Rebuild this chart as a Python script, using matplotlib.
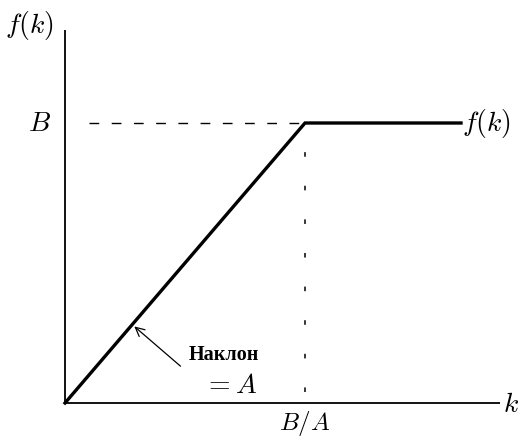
import matplotlib
matplotlib.use("Agg")
import matplotlib.pyplot as plt

# piecewise-linear f(k): slope A up to k = B/A, then flat at B (units: B = 1, B/A = 1)
k_points = [0.0, 1.0, 1.65]
f_points = [0.0, 1.0, 1.0]
kink_k = 1.0
level_B = 1.0

plt.rcParams["mathtext.fontset"] = "cm"

W, H = 529, 442
fig = plt.figure(figsize=(W / 100, H / 100), dpi=100)
# axes box placed in pixels: origin at (65, 403), x end at 500, y top at 30
ax = fig.add_axes([65 / W, (H - 403) / H, (500 - 65) / W, (403 - 30) / H])
ax.set_xlim(0, 435 / 240)
ax.set_ylim(0, 373 / 280)
ax.axis("off")

# axes lines
ax.plot([0, 435 / 240], [0, 0], color="black", lw=1.3, solid_capstyle="butt", clip_on=False)
ax.plot([0, 0], [0, 373 / 280], color="black", lw=1.3, solid_capstyle="butt", clip_on=False)

# guide lines
ax.plot([0.1, kink_k], [level_B, level_B], color="black", lw=1.0, dashes=(7, 9))
ax.plot([kink_k, kink_k], [0.04, level_B], color="black", lw=1.1, dashes=(3, 19))

# the function
ax.plot(k_points, f_points, color="black", lw=2.4, solid_joinstyle="miter", clip_on=False)

# labels
fs = 20
ax.text(-0.146, 1.35, r"$f(k)$", fontsize=fs, ha="center", va="center", clip_on=False)
ax.text(-0.108, level_B, r"$B$", fontsize=fs, ha="center", va="center")
ax.text(1.654, level_B, r"$f(k)$", fontsize=fs, ha="left", va="center")
ax.text(1.86, -0.005, r"$k$", fontsize=fs, ha="center", va="center", clip_on=False)
ax.text(kink_k, -0.075, r"$B/A$", fontsize=18, ha="center", va="center", clip_on=False)

ax.annotate("", xy=(0.28, 0.28), xytext=(0.49, 0.125),
            arrowprops=dict(arrowstyle="->", color="black", lw=0.9, mutation_scale=16))
ax.text(0.66, 0.171, "Наклон", fontsize=14.5, fontweight="bold",
        family=["Liberation Serif", "DejaVu Serif"], ha="center", va="center")
ax.text(0.69, 0.064, r"$= A$", fontsize=fs, ha="center", va="center")

fig.savefig("out.png", dpi=100)
